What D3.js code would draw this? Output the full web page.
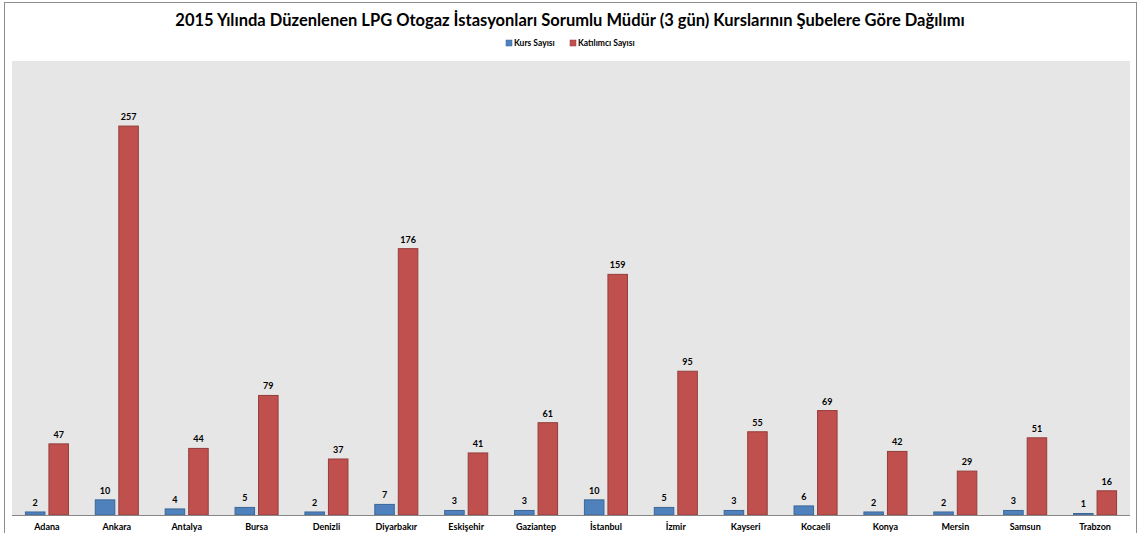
<!DOCTYPE html>
<html>
<head>
<meta charset="utf-8">
<script src="https://cdn.jsdelivr.net/npm/d3@7"></script>
<style>
  body { margin: 0; background: #fff; }
  text { font-family: Lato, "Open Sans", sans-serif; font-weight: bold; fill: #000; }
</style>
</head>
<body>
<div id="chart"></div>
<script>
var cities = ["Adana", "Ankara", "Antalya", "Bursa", "Denizli", "Diyarbakır", "Eskişehir", "Gaziantep",
              "İstanbul", "İzmir", "Kayseri", "Kocaeli", "Konya", "Mersin", "Samsun", "Trabzon"];
var kursSayisi = [2, 10, 4, 5, 2, 7, 3, 3, 10, 5, 3, 6, 2, 2, 3, 1];
var katilimciSayisi = [47, 257, 44, 79, 37, 176, 41, 61, 159, 95, 55, 69, 42, 29, 51, 16];
var seriesNames = ["Kurs Sayısı", "Katılımcı Sayısı"];
var yMax = 300;

var svgWidth = 1140;
var svgHeight = 533;

var plot = { left: 12, right: 1130, top: 61, bottom: 515 };

var svg = d3.select("#chart")
    .append("svg")
    .attr("width", svgWidth)
    .attr("height", svgHeight);

// outer chart border
svg.append("rect")
    .attr("x", 4.5).attr("y", 2.5)
    .attr("width", 1132).attr("height", 540)
    .attr("fill", "#fff")
    .attr("stroke", "#8c8c8c")
    .attr("stroke-width", 1);

// plot background
svg.append("rect")
    .attr("x", plot.left).attr("y", plot.top)
    .attr("width", plot.right - plot.left)
    .attr("height", plot.bottom - plot.top)
    .attr("fill", "#e6e6e6");

var x0 = d3.scaleBand()
    .domain(cities)
    .range([plot.left, plot.right])
    .paddingInner(0)
    .paddingOuter(0);

var x1 = d3.scaleBand()
    .domain([0, 1])
    .range([0, x0.bandwidth()])
    .paddingInner(0.17)
    .paddingOuter(0.57);

var y = d3.scaleLinear()
    .domain([0, yMax])
    .range([plot.bottom, plot.top]);

var fills = ["#4f81bd", "#c0504d"];
var strokes = ["#3b6796", "#943d3b"];

var rows = cities.map(function(c, i) {
    return { city: c, values: [kursSayisi[i], katilimciSayisi[i]] };
});

var groups = svg.selectAll(".city")
    .data(rows)
    .enter()
    .append("g")
    .attr("class", "city")
    .attr("transform", d => `translate(${x0(d.city)},0)`);

groups.selectAll("rect")
    .data(d => d.values.map((v, s) => ({ v: v, s: s })))
    .enter()
    .append("rect")
    .attr("x", d => x1(d.s))
    .attr("y", d => y(d.v))
    .attr("width", x1.bandwidth())
    .attr("height", d => y(0) - y(d.v))
    .attr("fill", d => fills[d.s])
    .attr("stroke", d => strokes[d.s])
    .attr("stroke-width", 1);

groups.selectAll(".val")
    .data(d => d.values.map((v, s) => ({ v: v, s: s })))
    .enter()
    .append("text")
    .attr("class", "val")
    .attr("x", d => x1(d.s) + x1.bandwidth() / 2)
    .attr("y", d => y(d.v) - 6)
    .attr("text-anchor", "middle")
    .attr("font-size", "9px")
    .text(d => d.v);

// baseline
svg.append("line")
    .attr("x1", plot.left).attr("x2", plot.right)
    .attr("y1", plot.bottom + 0.5).attr("y2", plot.bottom + 0.5)
    .attr("stroke", "#868686")
    .attr("stroke-width", 1);

// category labels
var xAxis = svg.append("g")
    .attr("transform", `translate(0,${plot.bottom})`)
    .call(d3.axisBottom(x0).tickSize(0).tickPadding(9));
xAxis.select(".domain").remove();
xAxis.selectAll("text")
    .attr("font-size", "9px")
    .style("font-family", "Lato, 'Open Sans', sans-serif")
    .style("font-weight", "bold")
    .attr("fill", "#000");

// title
svg.append("text")
    .attr("x", 570)
    .attr("y", 26)
    .attr("text-anchor", "middle")
    .attr("font-size", "16.5px")
    .text("2015 Yılında Düzenlenen LPG Otogaz İstasyonları Sorumlu Müdür (3 gün) Kurslarının Şubelere Göre Dağılımı");

// legend
var legendX = [506, 570];
var legend = svg.selectAll(".legend")
    .data(seriesNames)
    .enter()
    .append("g")
    .attr("class", "legend")
    .attr("transform", (d, i) => `translate(${legendX[i]},40)`);

legend.append("rect")
    .attr("width", 6).attr("height", 6)
    .attr("fill", (d, i) => fills[i])
    .attr("stroke", (d, i) => strokes[i])
    .attr("stroke-width", 0.5);

legend.append("text")
    .attr("x", 8)
    .attr("y", 6)
    .attr("font-size", "8.5px")
    .text(d => d);
</script>
</body>
</html>
